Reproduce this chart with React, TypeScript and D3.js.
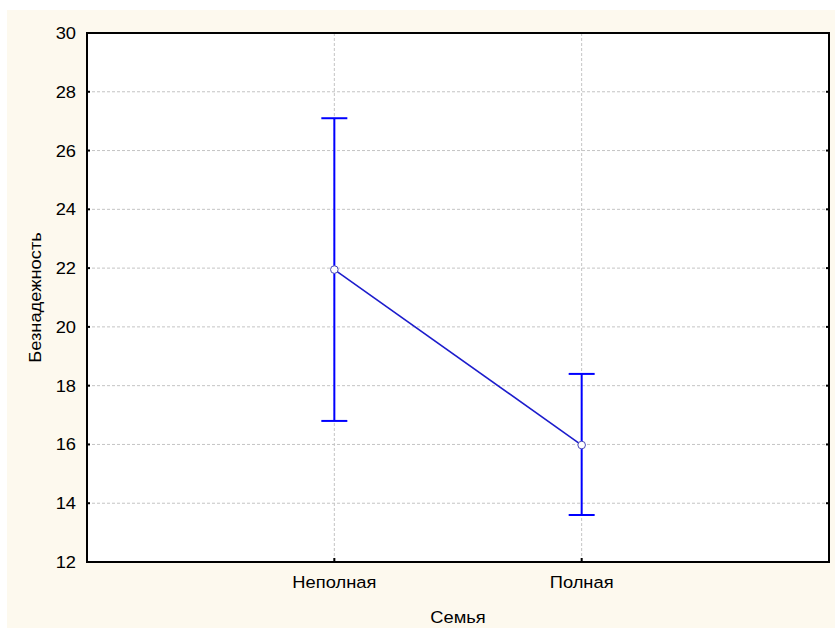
import { useRef, useEffect } from 'react';
import * as d3 from 'd3';

// groups and their means with the error bar ends
const categories = ['Неполная', 'Полная'];
const means = [21.95, 15.98];
const upper = [27.1, 18.4];
const lower = [16.8, 13.6];
const yTicks = [12, 14, 16, 18, 20, 22, 24, 26, 28, 30];

const W = 835;
const H = 628;
const margin = { top: 33, right: 6, bottom: 66, left: 87 };
const FONT = '"Liberation Sans", Arial, sans-serif';
const STRETCH = 'scale(1.11,1)'; // the original's text is a little wide

export default function App() {
  const ref = useRef<SVGSVGElement>(null);

  useEffect(() => {
    const svg = d3.select(ref.current);
    svg.selectAll('*').remove();

    const x0 = margin.left;
    const x1 = W - margin.right;
    const y0 = H - margin.bottom;
    const y1 = margin.top;

    const x = d3.scalePoint<string>().domain(categories).range([x0, x1]).padding(1);
    const y = d3.scaleLinear().domain([12, 30]).range([y0, y1]);

    // cream page background
    svg.append('rect').attr('x', 7).attr('y', 10).attr('width', W - 7).attr('height', H - 10).attr('fill', '#fdf9ee');
    svg.append('rect').attr('x', x0).attr('y', y1).attr('width', x1 - x0).attr('height', y0 - y1).attr('fill', '#ffffff');

    // dashed grid
    const grid = svg.append('g').attr('stroke', '#c4c4c4').attr('stroke-width', 1).attr('stroke-dasharray', '3,2');
    grid
      .selectAll('line.h')
      .data(yTicks.slice(1, -1))
      .join('line')
      .attr('x1', x0)
      .attr('x2', x1)
      .attr('y1', (d) => y(d))
      .attr('y2', (d) => y(d));
    grid
      .selectAll('line.v')
      .data(categories)
      .join('line')
      .attr('class', 'v')
      .attr('x1', (d) => x(d)!)
      .attr('x2', (d) => x(d)!)
      .attr('y1', y1)
      .attr('y2', y0);

    // inward ticks
    const ticks = svg.append('g').attr('stroke', '#000').attr('stroke-width', 2);
    ticks
      .selectAll('line.l')
      .data(yTicks)
      .join('line')
      .attr('x1', x0)
      .attr('x2', x0 + 3)
      .attr('y1', (d) => y(d))
      .attr('y2', (d) => y(d));
    ticks
      .selectAll('line.r')
      .data(yTicks)
      .join('line')
      .attr('class', 'r')
      .attr('x1', x1 - 3)
      .attr('x2', x1)
      .attr('y1', (d) => y(d))
      .attr('y2', (d) => y(d));
    ticks
      .selectAll('line.b')
      .data(categories)
      .join('line')
      .attr('class', 'b')
      .attr('x1', (d) => x(d)!)
      .attr('x2', (d) => x(d)!)
      .attr('y1', y0)
      .attr('y2', y0 - 4);

    // frame
    svg
      .append('rect')
      .attr('x', x0)
      .attr('y', y1)
      .attr('width', x1 - x0)
      .attr('height', y0 - y1)
      .attr('fill', 'none')
      .attr('stroke', '#000')
      .attr('stroke-width', 2);

    // tick labels
    svg
      .append('g')
      .selectAll('text')
      .data(yTicks)
      .join('text')
      .attr('transform', (d) => `translate(${x0 - 11},${y(d) + 6}) ${STRETCH}`)
      .attr('text-anchor', 'end')
      .attr('font-family', FONT)
      .attr('font-size', 16.5)
      .attr('fill', '#000')
      .text((d) => d);

    svg
      .append('g')
      .selectAll('text')
      .data(categories)
      .join('text')
      .attr('transform', (d) => `translate(${x(d)},${y0 + 26}) ${STRETCH}`)
      .attr('text-anchor', 'middle')
      .attr('font-family', FONT)
      .attr('font-size', 16.5)
      .attr('fill', '#000')
      .text((d) => d);

    // axis titles
    svg
      .append('text')
      .attr('transform', `translate(${(x0 + x1) / 2},${H - 5}) ${STRETCH}`)
      .attr('text-anchor', 'middle')
      .attr('font-family', FONT)
      .attr('font-size', 16.5)
      .text('Семья');

    svg
      .append('text')
      .attr('transform', `translate(41,${(y0 + y1) / 2}) rotate(-90) ${STRETCH}`)
      .attr('text-anchor', 'middle')
      .attr('font-family', FONT)
      .attr('font-size', 16.5)
      .text('Безнадежность');

    // error bars
    const bars = svg.append('g').attr('stroke', '#0000ff').attr('stroke-width', 2);
    categories.forEach((c, i) => {
      const cx = x(c)!;
      bars.append('line').attr('x1', cx).attr('x2', cx).attr('y1', y(upper[i])).attr('y2', y(lower[i]));
      bars.append('line').attr('x1', cx - 13).attr('x2', cx + 13).attr('y1', y(upper[i])).attr('y2', y(upper[i]));
      bars.append('line').attr('x1', cx - 13).attr('x2', cx + 13).attr('y1', y(lower[i])).attr('y2', y(lower[i]));
    });

    // line through the means
    const line = d3
      .line<number>()
      .x((_, i) => x(categories[i])!)
      .y((d) => y(d));
    svg
      .append('path')
      .attr('d', line(means))
      .attr('fill', 'none')
      .attr('stroke', '#1c1ccc')
      .attr('stroke-width', 1.6);

    svg
      .append('g')
      .selectAll('circle')
      .data(means)
      .join('circle')
      .attr('cx', (_, i) => x(categories[i])!)
      .attr('cy', (d) => y(d))
      .attr('r', 3.8)
      .attr('fill', '#ffffff')
      .attr('stroke', '#4a4ab8')
      .attr('stroke-width', 1);
  }, []);

  return (
    <svg
      ref={ref}
      width={W}
      height={H}
      viewBox={`0 0 ${W} ${H}`}
      style={{ position: 'absolute', left: 0, top: 0, background: '#ffffff' }}
    />
  );
}
